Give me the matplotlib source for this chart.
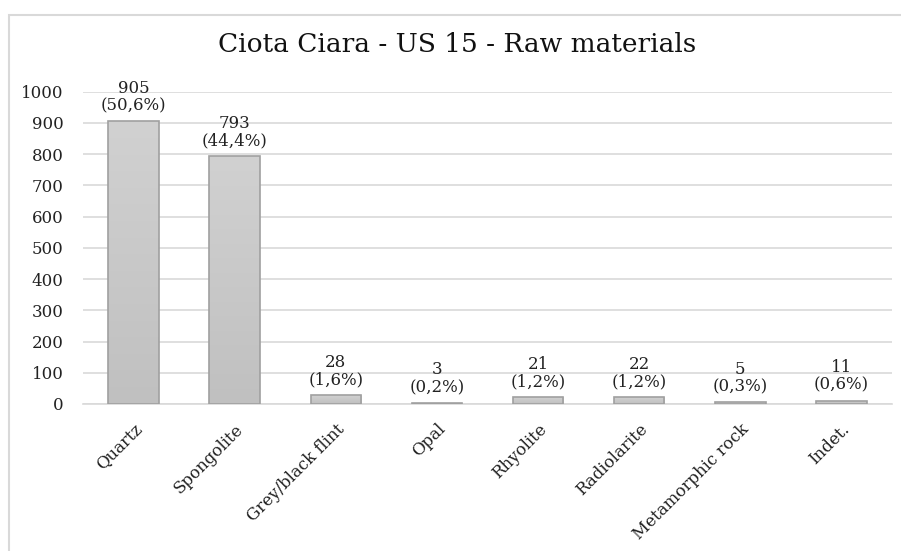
import matplotlib.pyplot as plt
import matplotlib.patches as mpatches
from matplotlib.colors import LinearSegmentedColormap
import numpy as np

categories = ["Quartz", "Spongolite", "Grey/black flint", "Opal", "Rhyolite",
              "Radiolarite", "Metamorphic rock", "Indet."]
counts = [905, 793, 28, 3, 21, 22, 5, 11]
percents = ["50,6%", "44,4%", "1,6%", "0,2%", "1,2%", "1,2%", "0,3%", "0,6%"]
yticks = [0, 100, 200, 300, 400, 500, 600, 700, 800, 900, 1000]

FONT = ["DejaVu Serif"]
GRID = "#d9d9d9"

plt.rcParams["font.family"] = FONT

fig = plt.figure(figsize=(9.01, 5.51), dpi=100)
ax = fig.add_axes([83 / 901, 1 - 404 / 551, (892 - 83) / 901, (404 - 91.7) / 551])

# light frame around the chart area
fig.patches.append(mpatches.Rectangle(
    (9 / 901, -0.1), 1.1, 1 - 15 / 551 + 0.1, transform=fig.transFigure,
    fill=False, edgecolor=GRID, linewidth=1.5))

x = np.arange(len(categories))
bars = ax.bar(x, counts, 0.5, color="#c8c8c8", edgecolor="#a0a0a0",
              linewidth=1.2, zorder=3)

# subtle vertical gradient inside each bar (lighter at top)
grad_cmap = LinearSegmentedColormap.from_list("g", ["#c0c0c0", "#d1d1d1"])
grad = np.linspace(0, 1, 256).reshape(-1, 1)
for bar in bars:
    x0, w, h = bar.get_x(), bar.get_width(), bar.get_height()
    im = ax.imshow(grad, cmap=grad_cmap, origin="lower", aspect="auto",
                   extent=(x0, x0 + w, 0, h), zorder=3.5)
    im.set_clip_path(bar)
    bar.set_facecolor("none")
    bar.set_zorder(4)

for bar, n, p in zip(bars, counts, percents):
    ax.annotate(f"{n}\n({p})", (bar.get_x() + bar.get_width() / 2, n),
                xytext=(0, 5), textcoords="offset points",
                ha="center", va="bottom", fontsize=12, linespacing=1.05,
                color="#222222")

ax.set_xlim(-0.5, len(categories) - 0.5)
ax.set_ylim(0, 1000)
ax.set_yticks(yticks)
ax.yaxis.grid(True, color=GRID, linewidth=1.2, zorder=0)
ax.set_axisbelow(True)
for s in ["top", "right", "left"]:
    ax.spines[s].set_visible(False)
ax.spines["bottom"].set_color(GRID)
ax.spines["bottom"].set_linewidth(1.2)
ax.tick_params(axis="both", length=0, labelsize=12, colors="#222222")
ax.tick_params(axis="y", pad=14)
ax.tick_params(axis="x", pad=12)
ax.set_xticks(x)
ax.set_xticklabels(categories, rotation=45, ha="right", rotation_mode="anchor")

fig.text(457 / 901, 1 - 45 / 551, "Ciota Ciara - US 15 - Raw materials",
         ha="center", va="center", fontsize=19, color="#111111")

fig.savefig("out.png", dpi=100)
